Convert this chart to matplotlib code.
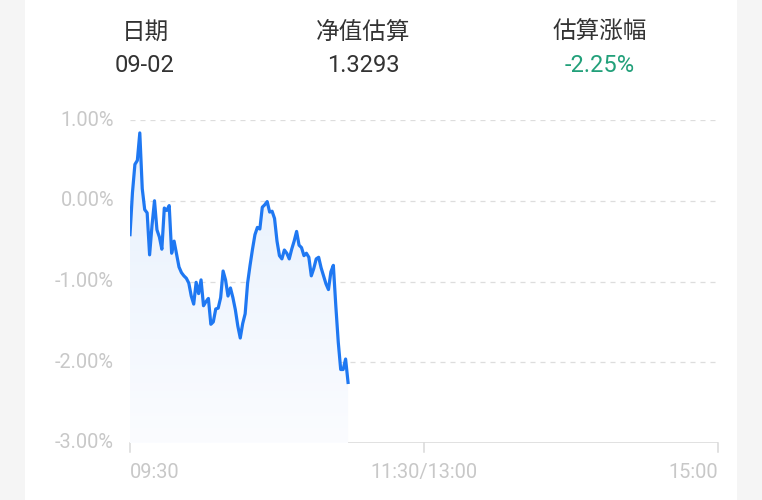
import numpy as np
import matplotlib
matplotlib.use("Agg")
import matplotlib.pyplot as plt
from matplotlib.patches import Rectangle
from matplotlib.colors import LinearSegmentedColormap

plt.rcParams['font.family'] = ['Roboto', 'Noto Sans CJK SC', 'DejaVu Sans']

# header info
head_titles = ["日期", "净值估算", "估算涨幅"]
head_values = ["09-02", "1.3293", "-2.25%"]

# intraday estimate change (%), one point per minute from 09:30
pct = [-0.42, 0.10, 0.45, 0.50, 0.84, 0.15, -0.11, -0.15, -0.67, -0.30,
       0.00, -0.36, -0.45, -0.60, -0.09, -0.12, -0.06, -0.65, -0.50, -0.66,
       -0.82, -0.89, -0.93, -0.96, -1.02, -1.18, -1.28, -1.01, -1.15, -0.98,
       -1.30, -1.25, -1.21, -1.53, -1.50, -1.34, -1.33, -1.20, -0.87, -0.98,
       -1.18, -1.08, -1.20, -1.35, -1.55, -1.70, -1.52, -1.40, -1.02, -0.80,
       -0.60, -0.42, -0.33, -0.35, -0.08, -0.05, -0.01, -0.14, -0.13, -0.22,
       -0.50, -0.68, -0.72, -0.61, -0.65, -0.72, -0.60, -0.50, -0.38, -0.55,
       -0.58, -0.68, -0.65, -0.70, -0.93, -0.84, -0.72, -0.70, -0.83, -0.93,
       -1.03, -1.10, -0.88, -0.80, -1.30, -1.75, -2.09, -2.09, -1.96, -2.25]
minutes = np.arange(len(pct))

y_ticks = [1, 0, -1, -2, -3]
x_ticks = [0, 120, 240]
x_labels = ["09:30", "11:30/13:00", "15:00"]

W, H = 762, 500
fig = plt.figure(figsize=(W / 100, H / 100), dpi=100)
fig.patch.set_facecolor('#f5f5f5')
fig.patches.append(Rectangle((25 / W, 0), (737 - 25) / W, 1, transform=fig.transFigure,
                             facecolor='white', edgecolor='none', zorder=-10))

# header
cols = [145, 363, 600]
for cx, t, v in zip(cols, head_titles, head_values):
    fig.text(cx / W, 1 - 32 / H, t, ha='center', va='center', fontsize=17, color='#333333')
    vc = '#22a07a' if v.startswith('-') and '%' in v else '#333333'
    fig.text(cx / W, 1 - 65 / H, v, ha='center', va='center', fontsize=17, color=vc)

ax = fig.add_axes([130 / W, 57 / H, 588 / W, 323 / H])
ax.set_zorder(5)
ax.set_facecolor('none')
for s in ax.spines.values():
    s.set_visible(False)
ax.set_xticks([])
ax.set_yticks([])

for yv in y_ticks[:-1]:
    ax.axhline(yv, color='#dddddd', lw=0.9, ls=(0, (4, 4)), zorder=1)
ax.axhline(-3, color='#d9d9d9', lw=1.1, zorder=1)
for xv in x_ticks:
    ax.plot([xv, xv], [-3, -3.11], color='#d9d9d9', lw=1.1, clip_on=False, zorder=1)

# gradient fill under the line
poly = ax.fill_between(minutes, pct, -3, color='none', lw=0)
grad = np.linspace(0.0, 1.0, 256).reshape(-1, 1)
cmap = LinearSegmentedColormap.from_list('g', ['#fbfcff', '#e6f0fd'])
im = ax.imshow(grad, extent=[0, minutes[-1], -3, max(pct)], origin='lower',
               aspect='auto', cmap=cmap, zorder=2)
im.set_clip_path(poly.get_paths()[0], transform=ax.transData)
ax.set_xlim(0, 240)
ax.set_ylim(-3, 1)

ax.plot(minutes, pct, color='#1f78f2', lw=2.3, zorder=3, solid_joinstyle='round')

# y labels
for yv in y_ticks:
    ax.text(-16 / 588 * 240, yv, f"{yv:.2f}%", ha='right', va='center',
            fontsize=14.4, color='#c8c8c8')

# x labels
aligns = ['left', 'center', 'right']
for xv, lab, al in zip(x_ticks, x_labels, aligns):
    ax.text(xv, -3.36, lab, ha=al, va='center', fontsize=14.4, color='#c8c8c8')

fig.savefig('out.png', dpi=100, facecolor=fig.get_facecolor())
